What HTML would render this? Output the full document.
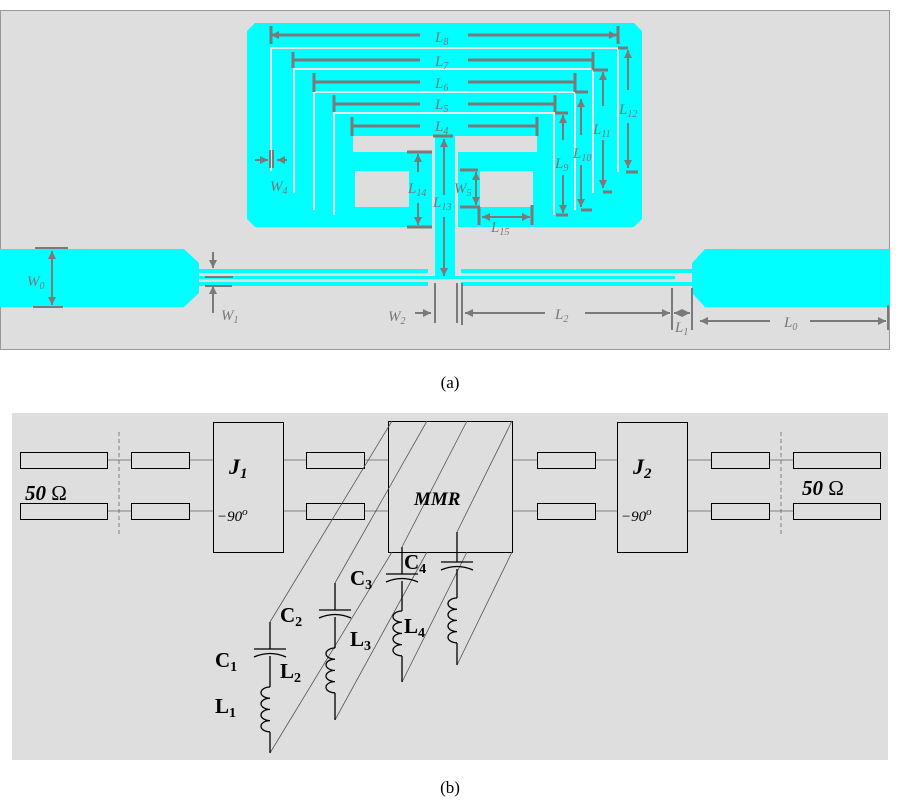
<!DOCTYPE html>
<html><head><meta charset="utf-8"><style>
html,body{margin:0;padding:0;background:#fff;width:900px;height:800px;overflow:hidden}
svg{display:block}
.d{stroke:#7a7a7a;stroke-width:3;fill:none}
.t{stroke:#7a7a7a;stroke-width:2;fill:none}
.lb{font-family:"Liberation Serif",serif;font-style:italic;fill:#777;font-size:15px}
.bl{font-family:"Liberation Serif",serif;font-weight:bold;fill:#000;font-size:21px}
.th{stroke:#666;stroke-width:0.8;fill:none}
</style></head><body>
<svg width="900" height="800" viewBox="0 0 900 800" xmlns="http://www.w3.org/2000/svg">
<defs>
<marker id="a" viewBox="0 0 10 10" refX="10" refY="5" markerWidth="4" markerHeight="4" orient="auto-start-reverse"><path d="M0,0L10,5L0,10z" fill="#7a7a7a"/></marker>
</defs>
<rect x="0.5" y="10.5" width="889" height="339" fill="#dedede" stroke="#999"/>
<path d="M255,23H634L642,31V219L634,227H255L247,219V31Z" fill="#00ffff"/>
<g fill="#e6e6e6">
<rect x="270" y="47" width="349" height="2"/><rect x="270" y="47" width="2" height="124"/><rect x="617" y="47" width="2" height="125"/>
<rect x="293" y="68" width="301" height="2"/><rect x="293" y="68" width="2" height="125"/><rect x="592" y="68" width="2" height="125"/>
<rect x="313" y="91" width="263" height="2"/><rect x="313" y="91" width="2" height="119"/><rect x="574" y="91" width="2" height="119"/>
<rect x="333" y="112" width="222" height="2"/><rect x="333" y="112" width="2" height="103"/><rect x="553" y="112" width="2" height="103"/>
</g>
<g fill="#dedede">
<rect x="353" y="136" width="82" height="16"/><rect x="455" y="136" width="82" height="16"/>
<rect x="432" y="152" width="3" height="75"/><rect x="455" y="152" width="3" height="75"/>
<rect x="355" y="171" width="54" height="36"/><rect x="480" y="171" width="53" height="36"/>
</g>
<rect x="435" y="136" width="20" height="143" fill="#00ffff"/>
<path d="M0,249H184L199,263V293L184,307H0Z" fill="#00ffff"/>
<path d="M890,249H705L692,263V293L705,307H890Z" fill="#00ffff"/>
<g fill="#00ffff">
<rect x="199" y="269" width="229" height="4"/><rect x="461" y="269" width="232" height="4"/>
<rect x="199" y="276" width="476" height="3"/>
<rect x="199" y="282" width="229" height="4"/><rect x="461" y="282" width="232" height="4"/>
</g>
<g class="d">
<path d="M271,35H420M468,35H617" /><path d="M271,26V44M618,26V44M618,48H628"/>
<path d="M293,60H420M468,60H593"/><path d="M293,52V68M593,52V70M593,70H608"/>
<path d="M314,82H420M468,82H575"/><path d="M314,73V92M575,73V92M575,92H588"/>
<path d="M334,104H420M468,104H555"/><path d="M334,95V112M555,95V112M555,113H568"/>
<path d="M352,126H420M468,126H537"/><path d="M352,117V136M537,117V136"/>
<path d="M626,172H638M603,192H612M581,210H592M556,215H568M407,152H432M407,227H432M460,207H480M460,170H478M479,207V225M532,205V225M433,136H453"/>
</g>
<g class="t">
<path d="M628,90V50" marker-end="url(#a)"/><path d="M628,123V168" marker-end="url(#a)"/>
<path d="M603,106V72" marker-end="url(#a)"/><path d="M603,140V188" marker-end="url(#a)"/>
<path d="M581,135V99" marker-end="url(#a)"/><path d="M581,165V207" marker-end="url(#a)"/>
<path d="M563,140V115" marker-end="url(#a)"/><path d="M563,175V213" marker-end="url(#a)"/>
<path d="M418,172V154" marker-end="url(#a)"/><path d="M418,203V225" marker-end="url(#a)"/>
<path d="M444,195V139" marker-end="url(#a)"/><path d="M444,217V276" marker-end="url(#a)"/>
<path d="M476,190V172" marker-end="url(#a)"/><path d="M476,190V205" marker-end="url(#a)"/>
<path d="M505,217H482" marker-end="url(#a)"/><path d="M505,217H530" marker-end="url(#a)"/>
<path d="M271,35H274" marker-start="url(#a)"/><path d="M617,35H614" marker-start="url(#a)"/>
<path d="M255,160H268" marker-end="url(#a)"/><path d="M287,160H277" marker-end="url(#a)"/>
<path d="M270,150V168M273,150V168"/>
<path d="M52,278V251" marker-end="url(#a)"/><path d="M52,278V305" marker-end="url(#a)"/>
<path d="M35,248H68M33,307H63"/>
<path d="M213,252V268" marker-end="url(#a)"/><path d="M213,313V286" marker-end="url(#a)"/>
<path d="M205,277H233M205,286H232"/>
<path d="M415,313H431" marker-end="url(#a)"/><path d="M435,283V323M457,283V323M462,283V325"/>
<path d="M545,313H465" marker-end="url(#a)"/><path d="M585,313H670" marker-end="url(#a)"/>
<path d="M672,288V330M692,288V330"/><path d="M682,313H674" marker-end="url(#a)"/><path d="M682,313H690" marker-end="url(#a)"/>
<path d="M770,321H700" marker-end="url(#a)"/><path d="M810,321H886" marker-end="url(#a)"/><path d="M888,305V330"/>
</g>
<g class="lb">
<text x="435" y="42">L<tspan font-size="10" dy="3">8</tspan></text>
<text x="435" y="66">L<tspan font-size="10" dy="3">7</tspan></text>
<text x="435" y="88">L<tspan font-size="10" dy="3">6</tspan></text>
<text x="435" y="109">L<tspan font-size="10" dy="3">5</tspan></text>
<text x="435" y="131">L<tspan font-size="10" dy="3">4</tspan></text>
<text x="619" y="114">L<tspan font-size="10" dy="3">12</tspan></text>
<text x="593" y="134">L<tspan font-size="10" dy="3">11</tspan></text>
<text x="573" y="158">L<tspan font-size="10" dy="3">10</tspan></text>
<text x="555" y="168">L<tspan font-size="10" dy="3">9</tspan></text>
<text x="408" y="193">L<tspan font-size="10" dy="3">14</tspan></text>
<text x="433" y="207">L<tspan font-size="10" dy="3">13</tspan></text>
<text x="454" y="193">W<tspan font-size="10" dy="3">5</tspan></text>
<text x="491" y="232">L<tspan font-size="10" dy="3">15</tspan></text>
<text x="270" y="191">W<tspan font-size="10" dy="3">4</tspan></text>
<text x="27" y="286">W<tspan font-size="10" dy="3">0</tspan></text>
<text x="221" y="320">W<tspan font-size="10" dy="3">1</tspan></text>
<text x="388" y="321">W<tspan font-size="10" dy="3">2</tspan></text>
<text x="555" y="319">L<tspan font-size="10" dy="3">2</tspan></text>
<text x="675" y="332">L<tspan font-size="10" dy="3">1</tspan></text>
<text x="784" y="327">L<tspan font-size="10" dy="3">0</tspan></text>
</g>
<text x="450" y="388" text-anchor="middle" font-family="Liberation Serif,serif" font-size="17">(a)</text>
<rect x="12" y="413" width="876" height="347" fill="#dedede"/>
<g class="th" stroke="#777">
<path d="M107,460H131M189,460H213M283,460H306M364,460H388M512,460H537M595,460H617M687,460H711M769,460H793"/>
<path d="M107,511H131M189,511H213M283,511H306M364,511H388M512,511H537M595,511H617M687,511H711M769,511H793"/>
<path d="M119,432V535M781,432V535" stroke-dasharray="4,3"/>
</g>
<g fill="none" stroke="#000" stroke-width="1">
<rect x="20.5" y="452.5" width="87" height="16"/><rect x="131.5" y="452.5" width="58" height="16"/>
<rect x="20.5" y="503.5" width="87" height="16"/><rect x="131.5" y="503.5" width="58" height="16"/>
<rect x="306.5" y="452.5" width="58" height="16"/><rect x="306.5" y="503.5" width="58" height="16"/>
<rect x="537.5" y="452.5" width="58" height="16"/><rect x="537.5" y="503.5" width="58" height="16"/>
<rect x="711.5" y="452.5" width="58" height="16"/><rect x="711.5" y="503.5" width="58" height="16"/>
<rect x="793.5" y="452.5" width="87" height="16"/><rect x="793.5" y="503.5" width="87" height="16"/>
<rect x="213.5" y="422.5" width="70" height="130"/><rect x="617.5" y="422.5" width="70" height="130"/>
<rect x="388.5" y="421.5" width="124" height="131"/>
</g>
<g stroke="#555" stroke-width="0.8" fill="none">
<path d="M270,622L392,421M270,753L392,552"/>
<path d="M335,583L427,421M335,720L427,552"/>
<path d="M402,547L467,421M402,682L467,552"/>
<path d="M457,532L512,421M457,665L512,552"/>
</g>
<g stroke="#000" stroke-width="1.3" fill="none">
<path d="M270,622V649M270,656V687M270,732V753"/>
<path d="M254,649H286M254,657Q270,650 286,657"/>
<path d="M270,687 a9,5.6 0 1 0 0,11.2 a9,5.6 0 1 0 0,11.2 a9,5.6 0 1 0 0,11.2 a9,5.6 0 1 0 0,11.2"/>
<path d="M335,583V610M335,617V648M335,693V720"/>
<path d="M319,610H351M319,618Q335,611 351,618"/>
<path d="M335,648 a9,5.6 0 1 0 0,11.2 a9,5.6 0 1 0 0,11.2 a9,5.6 0 1 0 0,11.2 a9,5.6 0 1 0 0,11.2"/>
<path d="M402,547V574M402,581V611M402,656V682"/>
<path d="M386,574H418M386,582Q402,575 418,582"/>
<path d="M402,611 a9,5.6 0 1 0 0,11.2 a9,5.6 0 1 0 0,11.2 a9,5.6 0 1 0 0,11.2 a9,5.6 0 1 0 0,11.2"/>
<path d="M457,532V562M457,569V598M457,643V665"/>
<path d="M441,562H473M441,570Q457,563 473,570"/>
<path d="M457,598 a9,5.6 0 1 0 0,11.2 a9,5.6 0 1 0 0,11.2 a9,5.6 0 1 0 0,11.2 a9,5.6 0 1 0 0,11.2"/>
</g>
<g class="bl">
<text x="215" y="667">C<tspan font-size="14" dy="4">1</tspan></text>
<text x="215" y="713">L<tspan font-size="14" dy="4">1</tspan></text>
<text x="280" y="622">C<tspan font-size="14" dy="4">2</tspan></text>
<text x="280" y="678">L<tspan font-size="14" dy="4">2</tspan></text>
<text x="350" y="585">C<tspan font-size="14" dy="4">3</tspan></text>
<text x="350" y="646">L<tspan font-size="14" dy="4">3</tspan></text>
<text x="404" y="569">C<tspan font-size="14" dy="4">4</tspan></text>
<text x="404" y="633">L<tspan font-size="14" dy="4">4</tspan></text>
</g>
<g font-family="Liberation Serif,serif" font-style="italic" font-weight="bold" fill="#000">
<text x="229" y="474" font-size="22">J<tspan font-size="15" dy="4">1</tspan></text>
<text x="633" y="474" font-size="22">J<tspan font-size="15" dy="4">2</tspan></text>
<text x="414" y="505" font-size="19">MMR</text>
<text x="25" y="500" font-size="21">50 <tspan font-style="normal" font-weight="normal">Ω</tspan></text>
<text x="802" y="495" font-size="21">50 <tspan font-style="normal" font-weight="normal">Ω</tspan></text>
</g>
<g font-family="Liberation Serif,serif" font-style="italic" font-size="15" fill="#000">
<text x="217" y="521">−90<tspan font-size="11" dy="-6">o</tspan></text>
<text x="621" y="521">−90<tspan font-size="11" dy="-6">o</tspan></text>
</g>
<text x="450" y="793" text-anchor="middle" font-family="Liberation Serif,serif" font-size="17">(b)</text>
</svg>
</body></html>
